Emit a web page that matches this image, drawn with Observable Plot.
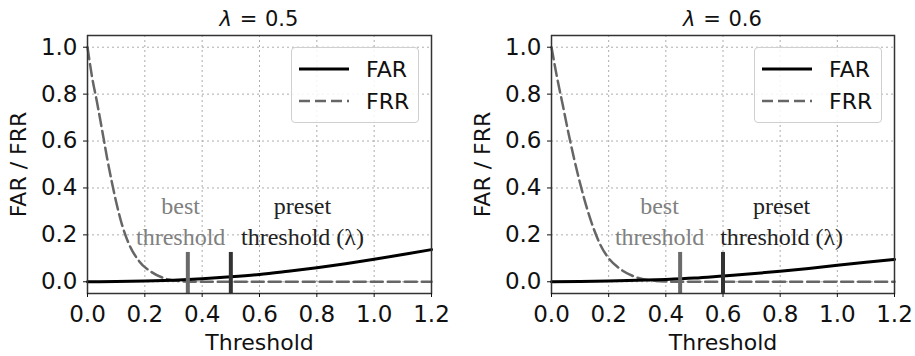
<!DOCTYPE html>
<html>
<head>
<meta charset="utf-8">
<script src="https://cdn.jsdelivr.net/npm/d3@7"></script>
<script src="https://cdn.jsdelivr.net/npm/@observablehq/plot@0.6"></script>
<style>
  body { margin: 0; background: #fff; }
  #root { position: relative; width: 915px; height: 356px; font-family: "DejaVu Sans", sans-serif; }
  .panel { position: absolute; top: 0; }
  .title { position: absolute; top: 7px; font-size: 21px; line-height: 24px; color: #111; white-space: nowrap; transform: translateX(-50%); word-spacing: 1px; }
  .legend { position: absolute; top: 47px; width: 128px; height: 76px; border: 1.2px solid #cfcfcf; border-radius: 4px; background: rgba(255,255,255,0.85); box-sizing: border-box; }
  .legend .row { position: absolute; left: 7px; height: 26px; display: flex; align-items: center; font-size: 22px; color: #111; }
  .legend .row span { margin-left: 17px; }
</style>
</head>
<body>
<div id="root"></div>
<script>
// ---- data ----
const panels = ["λ = 0.5", "λ = 0.6"];
const xTicks = [0, 0.2, 0.4, 0.6, 0.8, 1.0, 1.2];
const yTicks = [0, 0.2, 0.4, 0.6, 0.8, 1.0];
const gridXTicks = [0.2, 0.4, 0.6, 0.8, 1.0];
const gridYTicks = [0, 0.2, 0.4, 0.6, 0.8, 1.0];

const farX1 = [0, 0.1, 0.2, 0.3, 0.4, 0.5, 0.6, 0.7, 0.8, 0.9, 1.0, 1.1, 1.2];
const farY1 = [0, 0.001, 0.003, 0.007, 0.013, 0.021, 0.031, 0.045, 0.060, 0.077, 0.096, 0.116, 0.137];
const frrX1 = [0, 0.015, 0.034, 0.052, 0.068, 0.084, 0.100, 0.120, 0.145, 0.180, 0.225, 0.27, 0.32, 0.38, 0.45, 0.6, 0.8, 1.0, 1.2];
const frrY1 = [1.0, 0.88, 0.76, 0.64, 0.53, 0.43, 0.34, 0.245, 0.16, 0.088, 0.040, 0.014, 0.003, 0, 0, 0, 0, 0, 0];

const farX2 = [0, 0.1, 0.2, 0.3, 0.4, 0.5, 0.6, 0.7, 0.8, 0.9, 1.0, 1.1, 1.2];
const farY2 = [0, 0.001, 0.003, 0.006, 0.010, 0.016, 0.025, 0.034, 0.045, 0.057, 0.070, 0.083, 0.095];
const frrX2 = [0, 0.018, 0.040, 0.060, 0.080, 0.100, 0.120, 0.145, 0.170, 0.200, 0.240, 0.29, 0.34, 0.40, 0.47, 0.6, 0.8, 1.0, 1.2];
const frrY2 = [1.0, 0.88, 0.75, 0.63, 0.52, 0.42, 0.33, 0.235, 0.160, 0.100, 0.055, 0.022, 0.007, 0.001, 0, 0, 0, 0, 0];

const bestThreshold = [0.35, 0.45];
const presetThreshold = [0.5, 0.6];
const markerTop = 0.125;
const annoLabels = [["best", "threshold"], ["preset", "threshold (λ)"]];
const annoX1 = [0.325, 0.75];
const annoX2 = [0.378, 0.805];
const annoY = [0.32, 0.19];

// ---- drawing ----
const root = document.getElementById("root");
const fmt = d3.format(".1f");

function drawPanel(cfg) {
  const {left, width, mLeft, mRight, title, farX, farY, frrX, frrY, best, preset, annoX} = cfg;
  const far = farX.map((x, i) => ({x, y: farY[i]}));
  const frr = frrX.map((x, i) => ({x, y: frrY[i]}));
  const markers = [
    {x: best, c: "#6a6a6a"},
    {x: preset, c: "#333"}
  ];
  const annos = [];
  annoLabels.forEach((pair, k) => {
    pair.forEach((t, j) => annos.push({x: annoX[k], y: annoY[j], t, k}));
  });

  const chart = Plot.plot({
    width, height: 356,
    marginLeft: mLeft, marginRight: mRight, marginTop: 35, marginBottom: 63,
    x: {domain: [0, 1.2]},
    y: {domain: [-0.05, 1.05]},
    style: {fontFamily: "DejaVu Sans", fontSize: "22px", background: "white", color: "#111"},
    marks: [
      Plot.gridX(gridXTicks, {stroke: "#999", strokeOpacity: 0.8, strokeDasharray: "2,3", strokeWidth: 1}),
      Plot.gridY(gridYTicks, {stroke: "#999", strokeOpacity: 0.8, strokeDasharray: "2,3", strokeWidth: 1}),
      Plot.text(annos, {x: "x", y: "y", text: "t", fontFamily: "Liberation Serif", fontSize: 24,
        fill: d => d.k === 0 ? "#808080" : "#222", fontWeight: d => d.k === 0 ? "normal" : "bold"}),
      Plot.line(frr, {x: "x", y: "y", stroke: "#666", strokeWidth: 2.5, strokeDasharray: "12,5", curve: "monotone-x"}),
      Plot.line(far, {x: "x", y: "y", stroke: "#000", strokeWidth: 3, curve: "monotone-x"}),
      Plot.ruleX(markers, {x: "x", y1: -0.05, y2: markerTop, stroke: "c", strokeWidth: 4}),
      Plot.frame({stroke: "#333", strokeWidth: 1.5}),
      Plot.axisX(xTicks, {tickFormat: fmt, fontSize: 23, tickSize: 4, tickPadding: 8,
        label: null}),
      Plot.axisX({label: "Threshold", labelAnchor: "center", labelArrow: "none", labelOffset: 56, ticks: []}),
      Plot.axisY(yTicks, {tickFormat: fmt, fontSize: 23, tickSize: 4, tickPadding: 6,
        label: null}),
      Plot.axisY({label: "FAR / FRR", labelAnchor: "center", labelArrow: "none", labelOffset: 77, ticks: []})
    ]
  });

  const div = document.createElement("div");
  div.className = "panel";
  div.style.left = left + "px";
  div.style.width = width + "px";
  div.appendChild(chart);

  const frameLeft = mLeft, frameRight = width - mRight;
  const t = document.createElement("div");
  t.className = "title";
  t.style.left = ((frameLeft + frameRight) / 2) + "px";
  t.innerHTML = title.replace("λ", "<i>λ</i>");
  div.appendChild(t);

  const lg = document.createElement("div");
  lg.className = "legend";
  lg.style.left = (frameRight - 12 - 128) + "px";
  lg.innerHTML = `
    <div class="row" style="top:8px"><svg width="50" height="6"><line x1="0" x2="50" y1="3" y2="3" stroke="#000" stroke-width="3"/></svg><span>FAR</span></div>
    <div class="row" style="top:40px"><svg width="50" height="6"><line x1="0" x2="50" y1="3" y2="3" stroke="#666" stroke-width="2.5" stroke-dasharray="11,5"/></svg><span>FRR</span></div>`;
  div.appendChild(lg);
  root.appendChild(div);
}

drawPanel({left: 0, width: 457, mLeft: 87, mRight: 26, title: panels[0],
  farX: farX1, farY: farY1, frrX: frrX1, frrY: frrY1,
  best: bestThreshold[0], preset: presetThreshold[0], annoX: annoX1});
drawPanel({left: 463, width: 452, mLeft: 88, mRight: 21, title: panels[1],
  farX: farX2, farY: farY2, frrX: frrX2, frrY: frrY2,
  best: bestThreshold[1], preset: presetThreshold[1], annoX: annoX2});
</script>
</body>
</html>
